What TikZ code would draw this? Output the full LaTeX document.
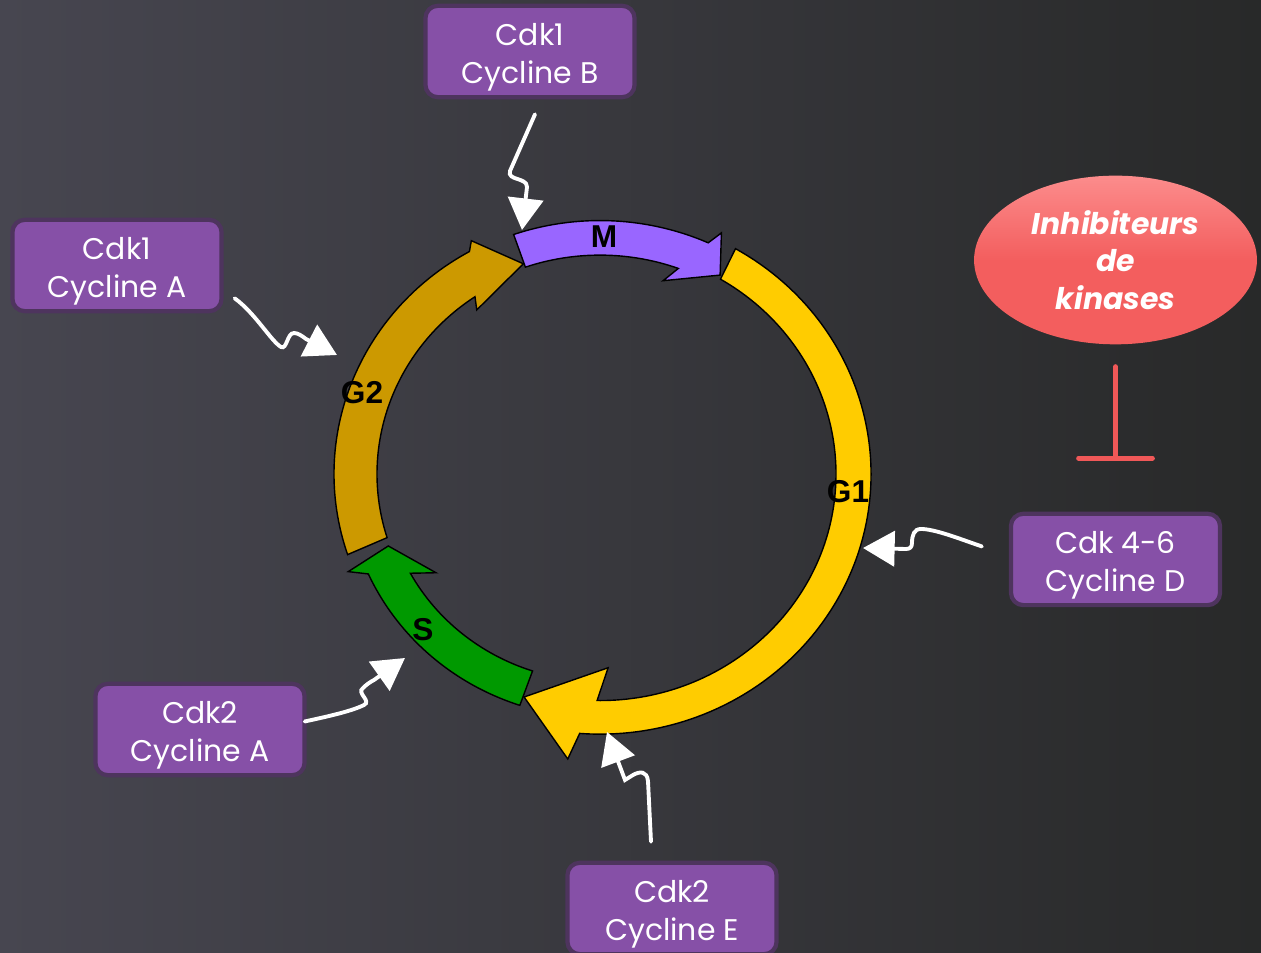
\documentclass[tikz,border=0pt]{standalone}
\usepackage{fontspec}
\setmainfont{Poppins}
\newfontfamily\labfont{Liberation Sans}
\usepackage{tikz}
\usetikzlibrary{
  arrows.meta,
  calc,
  positioning,
  shapes.geometric
}
\definecolor{bgleft}{RGB}{71,70,80}
\definecolor{bgright}{RGB}{40,41,41}
\definecolor{cdkpurple}{RGB}{134,80,167}
\definecolor{cdkrim}{RGB}{78,52,94}
\definecolor{mviolet}{RGB}{153,102,255}
\definecolor{gonegold}{RGB}{255,204,0}
\definecolor{gtwoochre}{RGB}{204,153,0}
\definecolor{sgreen}{RGB}{0,153,0}
\definecolor{inhibred}{RGB}{243,94,94}
\definecolor{inhibhi}{RGB}{252,140,140}
\definecolor{barred}{RGB}{240,88,88}
\tikzset{
  cdk/.style={draw=cdkrim,line width=2.4pt,fill=cdkpurple,
    rounded corners=7pt,align=center,text=white,inner sep=2pt,
    minimum width=119pt,minimum height=52pt,
    font=\fontsize{17}{21.5}\selectfont},
  phase/.style={draw=black,line width=0.8pt},
  phaselab/.style={font=\labfont\fontsize{18}{18}\selectfont\bfseries,
    text=black,inner sep=0pt},
  squig/.style={draw=white,line width=2.2pt,line cap=round,
    -{Triangle[length=18pt,width=20pt]}},
  inhib/.style={ellipse,top color=inhibhi,bottom color=inhibred,
    middle color=inhibred,minimum width=161pt,minimum height=96pt,
    inner sep=0pt,align=center,text=white,
    font=\fontsize{17}{21.3}\selectfont\bfseries\itshape},
  block/.style={draw=barred,line width=2.8pt,line cap=round,
    -{Bar[width=42pt,round]}}
}

\begin{document}
\begin{tikzpicture}[x=0.02cm,y=0.02cm]
  \useasboundingbox (0,0) rectangle (1261,953);
  \shade[left color=bgleft,right color=bgright] (0,0) rectangle (1261,953);

  \begin{scope}[shift={(600,479)},yscale=0.96]
    \filldraw[phase,fill=gonegold] (60:271)
      arc[start angle=60,end angle=-94.3,radius=271]
      -- (-96.2:298.6) -- (-108.1:244.4) -- (-87.7:202) -- (-90.7:236)
      arc[start angle=-90.7,end angle=59.3,radius=236] -- cycle;
    \filldraw[phase,fill=mviolet] (109.1:264)
      arc[start angle=109.1,end angle=65.8,radius=264]
      -- (64.2:279) -- (59.9:239.5) -- (72.6:211) -- (69.9:228)
      arc[start angle=69.9,end angle=109.1,radius=228] -- cycle;
    \filldraw[phase,fill=sgreen] (251.6:254)
      arc[start angle=251.6,end angle=204.2,radius=254]
      -- (202:271.5) -- (199.5:224.6) -- (212.1:193.6) -- (208.6:216)
      arc[start angle=208.6,end angle=251.8,radius=216] -- cycle;
    \filldraw[phase,fill=gtwoochre] (198.4:266)
      arc[start angle=198.4,end angle=119.4,radius=266]
      -- (117.9:275) -- (109.3:232) -- (125.8:210.7) -- (124.1:223)
      arc[start angle=124.1,end angle=197.3,radius=223] -- cycle;
  \end{scope}

  \node[phaselab] (labM) at (604,716) {M};
  \node[phaselab] (labGone) at (848,461) {G1};
  \node[phaselab] (labGtwo) at (362,560) {G2};
  \node[phaselab] (labS) at (423,323) {S};

  \coordinate (hitM) at (522,723);
  \coordinate (hitGtwo) at (337,598);
  \coordinate (hitS) at (405,295);
  \coordinate (hitE) at (607,221);
  \coordinate (hitD) at (863,405);

  \node[cdk] (cdkB) at (530,901.5) {\rule{0pt}{19pt}Cdk1\\Cycline B};
  \node[cdk] (cdkAone) at (117,687.5) {\rule{0pt}{19pt}Cdk1\\Cycline A};
  \node[cdk] (cdkAtwo) at (200,223.5) {\rule{0pt}{19pt}Cdk2\\Cycline A};
  \node[cdk] (cdkE) at (672,44.5) {\rule{0pt}{19pt}Cdk2\\Cycline E};
  \node[inhib] (inhib) at (1115.5,693) {Inhibiteurs\\de\\kinases};
  \node[cdk,below=3.34cm of inhib] (cdkD) {\rule{0pt}{19pt}Cdk 4-6\\Cycline D};

  \draw[squig] ($(cdkB.south)+(5,-15)$) -- (510,782)
    .. controls (507,772) and (527,776) .. (527,766) -- (hitM);
  \draw[squig] ($(cdkAone.south east)+(11,15)$)
    .. controls (255,640) and (271,612) .. (281,606)
    .. controls (287,603) and (287,620) .. (294,620)
    .. controls (298,620) and (302,617) .. (306,614) -- (hitGtwo);
  \draw[squig] ($(cdkAtwo.east)+(-2,8)$)
    .. controls (330,237) and (352,242) .. (364,248)
    .. controls (372,252) and (356,260) .. (363,265)
    .. controls (366,268) and (370,271) .. (374,273) -- (hitS);
  \draw[squig] ($(cdkE.north)+(-21,19)$) -- (648,172)
    .. controls (647,182) and (640,182) .. (633,178) -- (625,173) -- (hitE);
  \draw[squig] ($(cdkD.west)+(-27,13)$)
    .. controls (960,414) and (935,424) .. (921,424)
    .. controls (914,424) and (912,418) .. (912,410)
    .. controls (912,406) and (910,404) .. (906,404) -- (hitD);

  \draw[block,shorten <=0.44cm,shorten >=1.02cm] (inhib) -- (cdkD);
\end{tikzpicture}
\end{document}
